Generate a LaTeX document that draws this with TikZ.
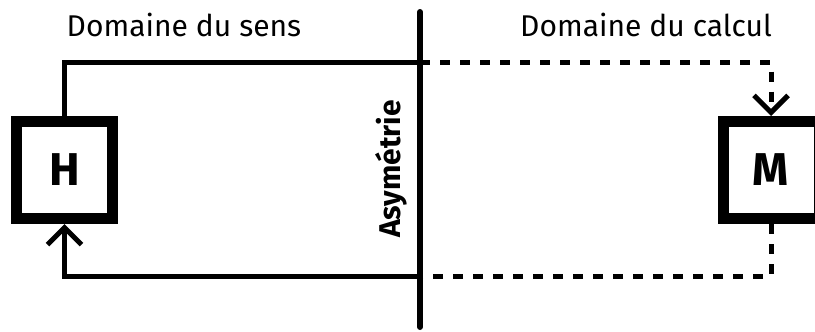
\documentclass[tikz,border=0pt]{standalone}
\usepackage{fontspec}
\setmainfont{Fira Sans}[BoldFont = * Bold]
\usetikzlibrary{arrows.meta, positioning}
\tikzset{> = { Straight Barb[length = 17pt, width = 34pt] }}

\begin{document}
\begin{tikzpicture}[x = 1pt, y = -1pt, line width = 5pt,
		block/.style = { draw, line width = 11pt, minimum width = 96pt, minimum height = 97pt, inner sep = 0pt, font = \bfseries\fontsize{46}{46}\selectfont },
		zone/.style = { font = \fontsize{30}{30}\selectfont },
		calc link/.style = { dash pattern = on 10pt off 10pt }]
		\useasboundingbox (0,0) rectangle (815,332);

		\node [block] (hum)  at (64.5,170)  {H};
		\node [block] (mach) at (771,170) {M};

		\node [zone] (sens)  at (184,25) {Domaine du sens};
		\node [zone] (calcu) at (646,25) {Domaine du calcul};

		\coordinate (divtop) at (420,12);
		\coordinate (divbot) at (420,327);
		\coordinate (topcross) at (420,62.5);
		\coordinate (botcross) at (420,276);

		\draw [line width = 6pt, line cap = round] (divtop) -- (divbot);
		\node [zone, font = \bfseries\fontsize{30}{30}\selectfont, rotate = 90, anchor = base] (asym) at (400,169) {Asymétrie};

		\draw (hum.north) |- (topcross);
		\draw [calc link, ->] (topcross) -| (mach.north);

		\draw [calc link] (mach.south) |- (botcross);
		\draw [->] (botcross) -| (hum.south);
	\end{tikzpicture}
\end{document}
